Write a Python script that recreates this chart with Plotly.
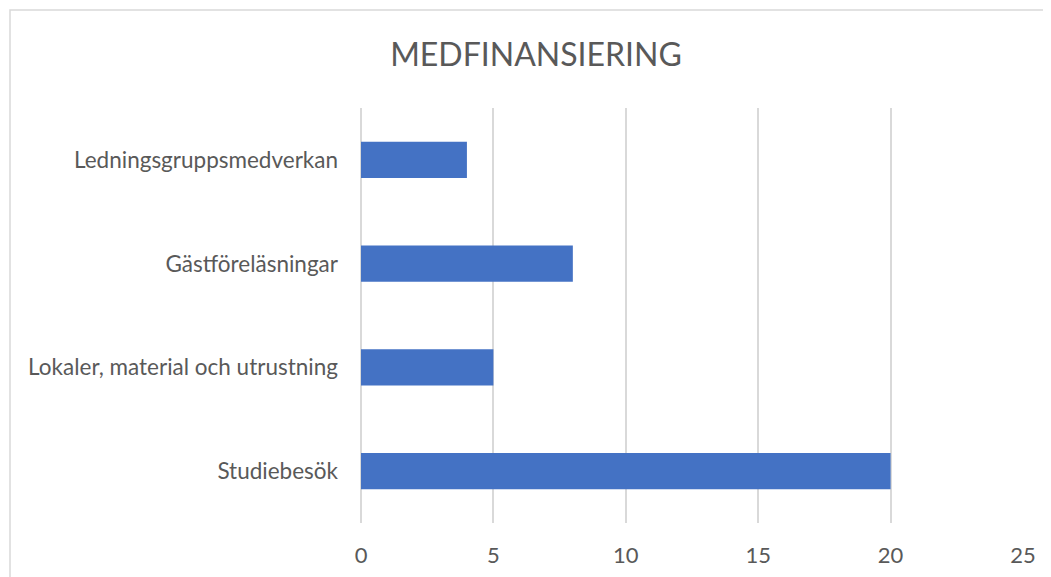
import plotly.graph_objects as go

# Data (top to bottom)
categories = ["Ledningsgruppsmedverkan", "Gästföreläsningar",
              "Lokaler, material och utrustning", "Studiebesök"]
values = [4, 8, 5, 20]
x_ticks = [0, 5, 10, 15, 20, 25]

W, H = 1051, 577
# the page body adds an 8px offset, so margins are shifted to compensate
m_l, m_r, m_t, m_b = 353, 36, 100, 62
plot_w = W - m_l - m_r
plot_h = H - m_t - m_b

fig = go.Figure()

fig.add_trace(go.Bar(
    x=values,
    y=categories,
    orientation="h",
    marker=dict(color="#4472C4", line=dict(width=0)),
    hoverinfo="x+y",
))

# light grey chart border (pixel position converted to paper coords)
fig.add_shape(
    type="rect", xref="paper", yref="paper",
    x0=(2 - m_l) / plot_w, x1=(W + 20 - m_l) / plot_w,
    y0=-(m_b + 30) / plot_h, y1=(H - 2 - m_b) / plot_h,
    line=dict(color="#d9d9d9", width=1.5),
    fillcolor="rgba(0,0,0,0)", layer="below",
)

fig.update_layout(
    width=W, height=H,
    margin=dict(l=m_l, r=m_r, t=m_t, b=m_b),
    paper_bgcolor="white", plot_bgcolor="white",
    font=dict(family="Lato", color="#595959"),
    title=dict(
        text="MEDFINANSIERING",
        x=528 / W, xanchor="center",
        y=1 - 47 / H, yanchor="middle",
        font=dict(size=32, color="#595959", family="Lato"),
    ),
    bargap=0.65,
    showlegend=False,
)

fig.update_xaxes(
    range=[0, 25],
    tickvals=x_ticks,
    showgrid=True, gridcolor="#d9d9d9", gridwidth=1.5,
    zeroline=True, zerolinecolor="#d9d9d9", zerolinewidth=1.5,
    showline=False,
    ticks="", ticklabelstandoff=17,
    tickfont=dict(size=22, color="#595959"),
    fixedrange=True,
)

fig.update_yaxes(
    autorange="reversed",
    showgrid=False, zeroline=False, showline=False,
    ticks="", ticklabelstandoff=22,
    tickfont=dict(size=22.5, color="#595959"),
    fixedrange=True,
)

fig.write_html("out.html")
